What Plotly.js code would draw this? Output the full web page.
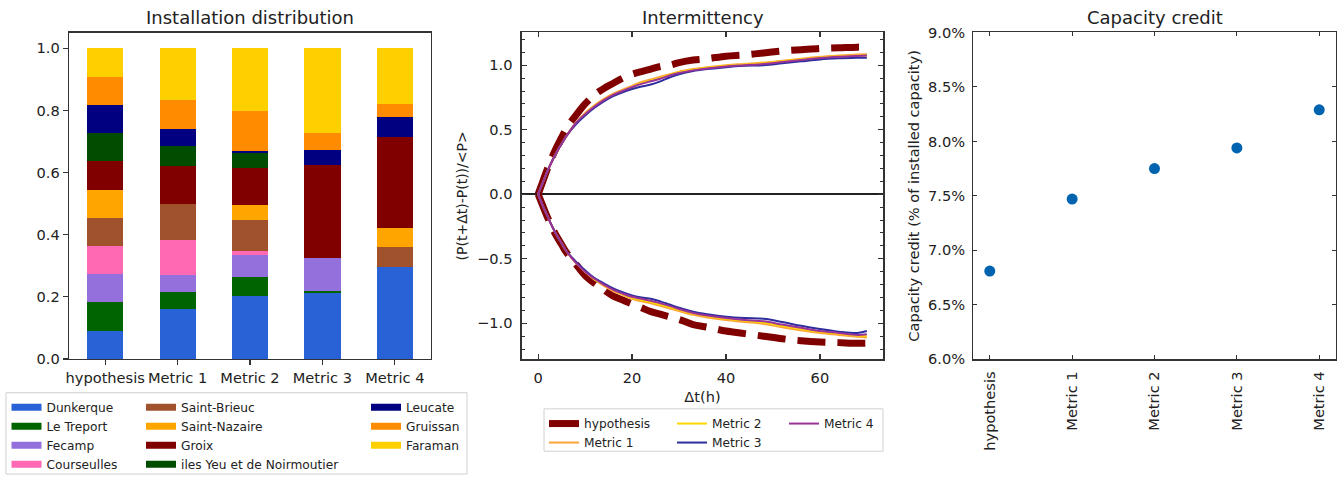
<!DOCTYPE html>
<html>
<head>
<meta charset="utf-8">
<script src="https://cdn.plot.ly/plotly-3.0.1.min.js"></script>
<style>html,body{margin:0;padding:0;background:#fff}#chart{width:1343px;height:479px}</style>
</head>
<body>
<div id="chart"></div>
<script>
// ---------- DATA ----------
const categories = ['hypothesis', 'Metric 1', 'Metric 2', 'Metric 3', 'Metric 4'];
const sites = ['Dunkerque', 'Le Treport', 'Fecamp', 'Courseulles', 'Saint-Brieuc', 'Saint-Nazaire', 'Groix', 'iles Yeu et de Noirmoutier', 'Leucate', 'Gruissan', 'Faraman'];
const siteColors = ['#2862d6', '#006400', '#9370db', '#ff69b4', '#a0522d', '#ffa500', '#800000', '#004d00', '#000080', '#ff8c00', '#ffd000'];

const dunkerque    = [0.0909, 0.161, 0.204, 0.213, 0.296];
const leTreport    = [0.0909, 0.053, 0.059, 0.006, 0.000];
const fecamp       = [0.0909, 0.057, 0.071, 0.105, 0.000];
const courseulles  = [0.0909, 0.112, 0.015, 0.000, 0.000];
const saintBrieuc  = [0.0909, 0.116, 0.097, 0.000, 0.063];
const saintNazaire = [0.0909, 0.000, 0.048, 0.000, 0.062];
const groix        = [0.0909, 0.121, 0.121, 0.300, 0.295];
const ilesYeu      = [0.0909, 0.067, 0.049, 0.000, 0.000];
const leucate      = [0.0909, 0.054, 0.005, 0.048, 0.063];
const gruissan     = [0.0909, 0.092, 0.130, 0.054, 0.043];
const faraman      = [0.0910, 0.167, 0.201, 0.274, 0.178];
const siteShares = [dunkerque, leTreport, fecamp, courseulles, saintBrieuc, saintNazaire, groix, ilesYeu, leucate, gruissan, faraman];

// Intermittency curves
const dt = [0,1,2,3,4,5,6,8,10,12,14,16,18,20,22,24,26,28,30,33,36,40,44,48,52,56,60,64,68,70];
const hypUp = [0,0.10,0.20,0.29,0.37,0.44,0.51,0.61,0.70,0.77,0.82,0.86,0.90,0.93,0.95,0.97,0.99,1.00,1.02,1.04,1.05,1.07,1.08,1.095,1.11,1.12,1.13,1.135,1.14,1.14];
const hypDown = [0,-0.09,-0.18,-0.26,-0.33,-0.39,-0.45,-0.54,-0.63,-0.69,-0.74,-0.79,-0.82,-0.85,-0.88,-0.91,-0.93,-0.95,-0.97,-1.01,-1.03,-1.06,-1.08,-1.10,-1.12,-1.135,-1.145,-1.15,-1.155,-1.155];
const m1Up = [0,0.09,0.18,0.26,0.33,0.39,0.45,0.55,0.63,0.69,0.74,0.78,0.81,0.84,0.87,0.89,0.91,0.93,0.95,0.97,0.985,1.00,1.01,1.02,1.035,1.05,1.065,1.075,1.083,1.085];
const m2Up = [0,0.09,0.18,0.26,0.33,0.39,0.45,0.55,0.62,0.68,0.73,0.77,0.80,0.83,0.86,0.88,0.90,0.925,0.945,0.965,0.98,0.995,1.005,1.015,1.03,1.045,1.06,1.068,1.073,1.075];
const m3Up = [0,0.09,0.18,0.26,0.33,0.39,0.45,0.54,0.61,0.67,0.72,0.76,0.79,0.815,0.835,0.85,0.875,0.905,0.93,0.955,0.97,0.985,0.995,1.00,1.015,1.03,1.045,1.053,1.057,1.058];
const m4Up = [0,0.09,0.18,0.26,0.33,0.39,0.45,0.55,0.62,0.68,0.73,0.77,0.80,0.83,0.855,0.875,0.895,0.92,0.94,0.96,0.975,0.99,1.00,1.01,1.025,1.04,1.055,1.065,1.072,1.075];
const m1Down = [0,-0.09,-0.17,-0.25,-0.32,-0.38,-0.44,-0.53,-0.60,-0.66,-0.71,-0.75,-0.78,-0.81,-0.83,-0.845,-0.865,-0.885,-0.905,-0.935,-0.955,-0.975,-0.99,-1.005,-1.03,-1.055,-1.075,-1.09,-1.105,-1.11];
const m2Down = [0,-0.09,-0.17,-0.25,-0.32,-0.38,-0.44,-0.53,-0.60,-0.66,-0.70,-0.74,-0.775,-0.80,-0.82,-0.835,-0.855,-0.875,-0.895,-0.925,-0.945,-0.965,-0.98,-0.995,-1.02,-1.045,-1.065,-1.08,-1.095,-1.10];
const m3Down = [0,-0.09,-0.17,-0.25,-0.32,-0.38,-0.44,-0.52,-0.59,-0.65,-0.69,-0.73,-0.76,-0.785,-0.80,-0.81,-0.83,-0.855,-0.88,-0.91,-0.93,-0.95,-0.96,-0.965,-0.99,-1.02,-1.045,-1.065,-1.075,-1.06];
const m4Down = [0,-0.09,-0.17,-0.25,-0.32,-0.38,-0.44,-0.53,-0.60,-0.655,-0.70,-0.74,-0.77,-0.795,-0.81,-0.825,-0.845,-0.865,-0.89,-0.92,-0.94,-0.96,-0.975,-0.985,-1.01,-1.035,-1.06,-1.075,-1.09,-1.085];
const metricNames = ['Metric 1', 'Metric 2', 'Metric 3', 'Metric 4'];
const metricColors = ['#ffa536', '#ffd700', '#2d2d9e', '#993399'];
const metricUp = [m1Up, m2Up, m3Up, m4Up];
const metricDown = [m1Down, m2Down, m3Down, m4Down];

// Capacity credit (% of installed capacity)
const capacityCredit = [6.81, 7.47, 7.75, 7.94, 8.29];
const creditTickVals = [6, 6.5, 7, 7.5, 8, 8.5, 9];
const creditTickText = ['6.0%', '6.5%', '7.0%', '7.5%', '8.0%', '8.5%', '9.0%'];

// ---------- LAYOUT HELPERS ----------
const W = 1343, H = 479;
const px = v => v / W;
const py = v => 1 - v / H;
const TXT = '#222';
const AX = '#333';
const FONT = 'DejaVu Sans, sans-serif';
const TICK = 14.6;

const traces = [];

// stacked bars
sites.forEach((s, i) => {
  traces.push({
    type: 'bar', x: categories, y: siteShares[i], name: s,
    marker: {color: siteColors[i], line: {width: 0}},
    width: 0.5, xaxis: 'x', yaxis: 'y', showlegend: false, hoverinfo: 'x+y+name'
  });
});
// legend entries for bars (3 columns)
const legCols = ['legend', 'legend', 'legend', 'legend', 'legend2', 'legend2', 'legend2', 'legend2', 'legend3', 'legend3', 'legend3'];
sites.forEach((s, i) => {
  traces.push({
    type: 'scatter', mode: 'lines', x: [null], y: [null], name: s,
    line: {color: siteColors[i], width: 7}, xaxis: 'x', yaxis: 'y',
    legend: legCols[i], showlegend: true, hoverinfo: 'skip'
  });
});

// intermittency
traces.push({type: 'scatter', mode: 'lines', x: dt, y: hypUp, name: 'hypothesis', xaxis: 'x2', yaxis: 'y2',
  line: {color: '#800000', width: 7, dash: '28px,12px', shape: 'spline'}, showlegend: false});
traces.push({type: 'scatter', mode: 'lines', x: dt, y: hypDown, name: 'hypothesis', xaxis: 'x2', yaxis: 'y2',
  line: {color: '#800000', width: 7, dash: '28px,12px', shape: 'spline'}, showlegend: false});
traces.push({type: 'scatter', mode: 'lines', x: [null], y: [null], name: 'hypothesis', xaxis: 'x2', yaxis: 'y2',
  line: {color: '#800000', width: 7}, legend: 'legend4', showlegend: true, hoverinfo: 'skip'});
const metricLegends = ['legend4', 'legend5', 'legend5', 'legend6'];
metricNames.forEach((m, i) => {
  traces.push({type: 'scatter', mode: 'lines', x: dt, y: metricUp[i], name: m, xaxis: 'x2', yaxis: 'y2',
    line: {color: metricColors[i], width: 2, shape: 'spline'}, legend: metricLegends[i], legendgroup: m, showlegend: true});
  traces.push({type: 'scatter', mode: 'lines', x: dt, y: metricDown[i], name: m, xaxis: 'x2', yaxis: 'y2',
    line: {color: metricColors[i], width: 2, shape: 'spline'}, legend: metricLegends[i], legendgroup: m, showlegend: false});
});

// capacity credit
traces.push({type: 'scatter', mode: 'markers', x: categories, y: capacityCredit, name: 'Capacity credit',
  xaxis: 'x3', yaxis: 'y3', marker: {color: '#0063b0', size: 11}, showlegend: false});

const baseAxis = {
  showline: true, linecolor: AX, linewidth: 1.3, showgrid: false, zeroline: false,
  tickfont: {family: FONT, size: TICK, color: TXT}, tickcolor: AX, tickwidth: 1.2
};

const legBase = {
  font: {family: FONT, size: 12.2, color: TXT}, bgcolor: 'rgba(0,0,0,0)', borderwidth: 0,
  orientation: 'v', xanchor: 'left', yanchor: 'top', itemwidth: 30, traceorder: 'normal',
  itemclick: false, itemdoubleclick: false
};

const layout = {
  width: W, height: H,
  margin: {l: 0, r: 0, t: 0, b: 0},
  paper_bgcolor: '#fff', plot_bgcolor: '#fff',
  font: {family: FONT, color: TXT},
  barmode: 'stack',
  showlegend: true,
  xaxis: Object.assign({}, baseAxis, {
    domain: [px(69), px(431)], anchor: 'y', type: 'category', range: [-0.5, 4.5],
    ticks: 'outside', ticklen: 5, mirror: true
  }),
  yaxis: Object.assign({}, baseAxis, {
    domain: [py(362), py(33)], anchor: 'x', range: [0, 1.05], tickvals: [0, 0.2, 0.4, 0.6, 0.8, 1.0],
    tickformat: '.1f', ticks: 'outside', ticklen: 5, mirror: true
  }),
  xaxis2: Object.assign({}, baseAxis, {
    domain: [px(521.7), px(883.3)], anchor: 'y2', range: [-3.5, 73.5], tickvals: [0, 20, 40, 60],
    ticks: 'inside', ticklen: 5, mirror: 'ticks', ticklabelstandoff: 5,
    title: {text: 'Δt(h)', font: {family: FONT, size: TICK, color: TXT}, standoff: 6}
  }),
  yaxis2: Object.assign({}, baseAxis, {
    domain: [py(362.3), py(32.7)], anchor: 'x2', range: [-1.279, 1.254], tickvals: [-1, -0.5, 0, 0.5, 1],
    tickformat: '.1f', ticks: 'inside', ticklen: 5, mirror: 'ticks', ticklabelstandoff: 5,
    minor: {dtick: 0.1, tick0: 0, ticks: 'inside', ticklen: 3, tickcolor: AX, tickwidth: 1},
    zeroline: true, zerolinecolor: '#222', zerolinewidth: 2.5,
    title: {text: '(P(t+Δt)-P(t))/&lt;P&gt;', font: {family: FONT, size: 14, color: TXT}, standoff: 6}
  }),
  xaxis3: Object.assign({}, baseAxis, {
    domain: [px(973.3), px(1335.7)], anchor: 'y3', type: 'category', range: [-0.2, 4.2],
    ticks: 'inside', ticklen: 4, mirror: 'ticks', tickangle: -90, ticklabelstandoff: 5
  }),
  yaxis3: Object.assign({}, baseAxis, {
    domain: [py(362.3), py(32.7)], anchor: 'x3', range: [6, 9], tickmode: 'array',
    tickvals: creditTickVals, ticktext: creditTickText,
    ticks: 'inside', ticklen: 4, mirror: 'ticks', ticklabelstandoff: 4,
    title: {text: 'Capacity credit (% of installed capacity)', font: {family: FONT, size: TICK, color: TXT}, standoff: 5}
  }),
  legend:  Object.assign({}, legBase, {x: px(6.5), y: py(396)}),
  legend2: Object.assign({}, legBase, {x: px(141), y: py(396)}),
  legend3: Object.assign({}, legBase, {x: px(366), y: py(396)}),
  legend4: Object.assign({}, legBase, {x: px(544), y: py(412.5)}),
  legend5: Object.assign({}, legBase, {x: px(672), y: py(412.5)}),
  legend6: Object.assign({}, legBase, {x: px(784), y: py(412.5)}),
  shapes: [
    {type: 'rect', xref: 'paper', yref: 'paper', x0: px(6), x1: px(467), y0: py(478), y1: py(396),
      line: {color: '#d0d0d0', width: 1}, fillcolor: 'rgba(0,0,0,0)'},
    {type: 'rect', xref: 'paper', yref: 'paper', x0: px(544), x1: px(883), y0: py(455), y1: py(412.3),
      line: {color: '#d0d0d0', width: 1}, fillcolor: 'rgba(0,0,0,0)'}
  ],
  annotations: [
    {text: 'Installation distribution', xref: 'paper', yref: 'paper', x: px(250), y: py(18), xanchor: 'center', yanchor: 'middle', showarrow: false, font: {family: FONT, size: 18, color: TXT}},
    {text: 'Intermittency', xref: 'paper', yref: 'paper', x: px(702.5), y: py(18), xanchor: 'center', yanchor: 'middle', showarrow: false, font: {family: FONT, size: 18, color: TXT}},
    {text: 'Capacity credit', xref: 'paper', yref: 'paper', x: px(1154.5), y: py(18), xanchor: 'center', yanchor: 'middle', showarrow: false, font: {family: FONT, size: 18, color: TXT}}
  ]
};

Plotly.newPlot('chart', traces, layout, {displayModeBar: false, staticPlot: true});
</script>
</body>
</html>
